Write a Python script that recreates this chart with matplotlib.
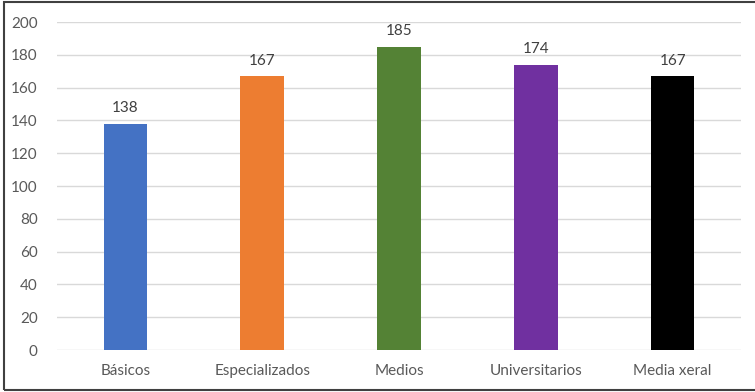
import matplotlib.pyplot as plt
from matplotlib.patches import Rectangle

categories = ['Básicos', 'Especializados', 'Medios', 'Universitarios', 'Media xeral']
values = [138, 167, 185, 174, 167]
colors = ['#4472C4', '#ED7D31', '#548235', '#7030A0', '#000000']

plt.rcParams['font.family'] = ['Lato', 'DejaVu Sans']

fig = plt.figure(figsize=(7.55, 3.92), dpi=100)
ax = fig.add_axes([57 / 755, 1 - 350 / 392, (741 - 57) / 755, (350 - 22) / 392])

x = range(len(categories))
bars = ax.bar(x, values, width=0.32, color=colors, zorder=3)
for b, v in zip(bars, values):
    ax.annotate(str(v), (b.get_x() + b.get_width() / 2, v), xytext=(0, 6),
                textcoords='offset points', ha='center', va='bottom',
                fontsize=11, color='#404040')

ax.set_xlim(-0.5, len(categories) - 0.5)
ax.set_ylim(0, 200)
ax.set_yticks(range(0, 201, 20))
ax.set_xticks(list(x))
ax.set_xticklabels(categories)
ax.grid(axis='y', color='#D9D9D9', linewidth=1, zorder=0)
for s in ax.spines.values():
    s.set_visible(False)
ax.tick_params(length=0, labelsize=11, labelcolor='#595959')
ax.tick_params(axis='y', pad=14)
ax.tick_params(axis='x', pad=10)

fig.patches.append(Rectangle((4 / 755, 2 / 392), 1.0, 388 / 392, transform=fig.transFigure,
                             fill=False, edgecolor='#404040', linewidth=1.5))

fig.savefig('out.png', dpi=100)
